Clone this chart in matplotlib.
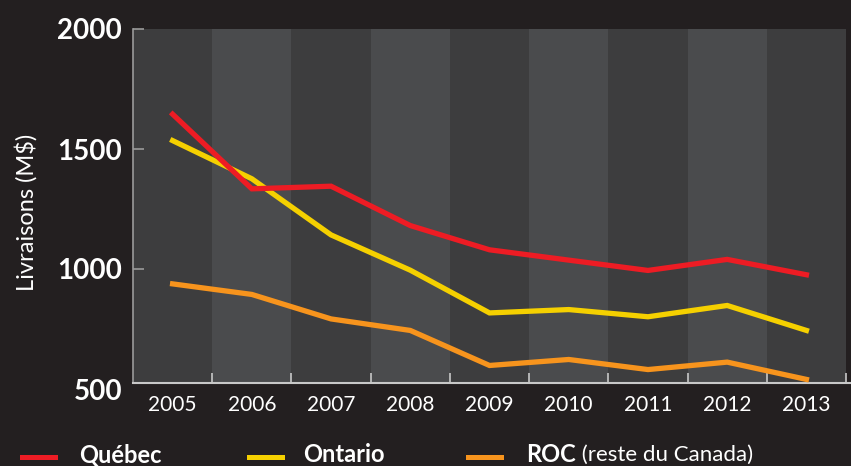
import numpy as np
import matplotlib.pyplot as plt

years = ['2005', '2006', '2007', '2008', '2009', '2010', '2011', '2012', '2013']
quebec = [1645, 1334, 1345, 1181, 1080, 1037, 994, 1040, 976]
ontario = [1535, 1376, 1142, 995, 817, 831, 801, 848, 744]
roc = [938, 894, 792, 744, 598, 623, 581, 612, 540]
yticks = [1000, 1500, 2000]

bg = '#231f20'
W, H = 851, 466
fig = plt.figure(figsize=(8.51, 4.66), dpi=100, facecolor=bg)
ax = fig.add_axes([133 / W, 1 - 383 / H, 717 / W, 354 / H])
ax.set_facecolor(bg)

x = np.arange(len(years))
for i in x:
    ax.axvspan(i - 0.5, i + 0.5, color='#3d3d3e' if i % 2 == 0 else '#4a4b4d', lw=0, zorder=0)

ax.plot(x, roc, color='#f7941d', lw=3.8, solid_joinstyle='miter', zorder=3)
ax.plot(x, ontario, color='#f5d000', lw=3.8, solid_joinstyle='miter', zorder=3)
ax.plot(x, quebec, color='#ed1c24', lw=3.8, solid_joinstyle='miter', zorder=4)

ax.set_xlim(-0.5, 8.55)
ax.set_ylim(525, 2000)

for s in ['top', 'right']:
    ax.spines[s].set_visible(False)
ax.spines['left'].set_color('#9a9a9a')
ax.spines['bottom'].set_color('#c8c8c8')
ax.spines['left'].set_linewidth(1.2)
ax.spines['bottom'].set_linewidth(1.5)

ax.set_yticks(yticks)
ax.set_yticklabels([str(v) for v in yticks], fontfamily='Lato', fontweight='bold',
                   fontsize=20, color='white')
ax.tick_params(axis='y', direction='in', length=8, width=1.2, color='#9a9a9a', pad=8)
fig.text(122 / W, 1 - 392 / H, '500', ha='right', va='center', fontfamily='Lato',
         fontweight='bold', fontsize=20, color='white')

ax.set_xticks(x + 0.5)
ax.set_xticklabels([])
ax.tick_params(axis='x', direction='in', length=7, width=1.2, color='#c8c8c8')
ytxt = 1 - 405 / H
for i, yr in enumerate(years):
    xp = ax.transData.transform((i, 1000))[0]
    fig.text(xp / W, ytxt, yr, ha='center', va='center', fontfamily='Lato',
             fontsize=15, color='white')

fig.text(26 / W, 1 - 212 / H, 'Livraisons (M$)', rotation=90, ha='center', va='center',
         fontfamily='Lato', fontsize=17, color='white')

# legend
items = [(22, 79, '#ed1c24', 'Québec', ''), (249, 303, '#f5d000', 'Ontario', ''),
         (468, 526, '#f7941d', 'ROC', ' (reste du Canada)')]
ly = 1 - 455 / H
for px, tx, c, bold, rest in items:
    fig.add_artist(plt.Line2D([px / W, (px + 33) / W], [1 - 457 / H, 1 - 457 / H], color=c, lw=3.6))
    t = fig.text(tx / W, ly, bold, ha='left', va='center', fontfamily='Lato',
                 fontweight='bold', fontsize=17, color='white')
    if rest:
        fig.canvas.draw()
        bb = t.get_window_extent()
        fig.text(bb.x1 / W, ly, rest, ha='left', va='center',
                 fontfamily='Lato', fontsize=16, color='white')

fig.savefig('out.png', dpi=100, facecolor=bg)
